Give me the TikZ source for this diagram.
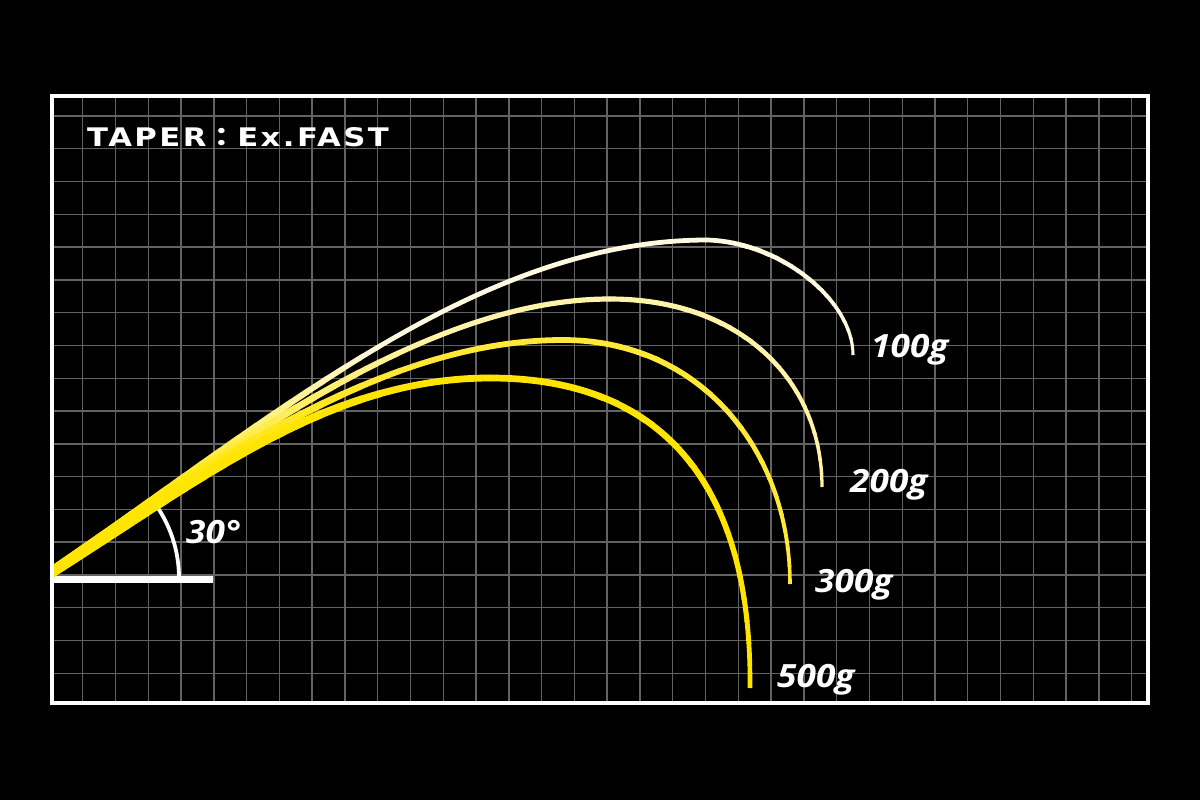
\documentclass[tikz,border=0pt]{standalone}
\usepackage{fontspec}
\setmainfont{DejaVu Sans}
\newfontfamily\lblfont{Open Sans}
\newfontfamily\titlefont[LetterSpace=8]{DejaVu Sans}
\newfontfamily\cjkfont{Noto Sans CJK JP}
\definecolor{gridgray}{HTML}{626262}
\definecolor{rodyellow}{HTML}{FFE600}
\definecolor{pale100}{HTML}{FFF9E0}
\definecolor{pale200}{HTML}{FFF3A8}
\definecolor{y300}{HTML}{FFE836}
\definecolor{y500}{HTML}{FFE400}
\tikzset{
  gridline/.style={draw=gridgray, line width=1.4pt},
  framebox/.style={draw=white, line width=3.5pt},
  lbl/.style={text=white, inner sep=0pt, anchor=base west, xscale=1.1, font=\lblfont\bfseries\itshape\fontsize{32}{32}\selectfont},
}
% uses \rodpath; #1 start colour, #2 end colour, #3 start width, #4 mid width, #5 x start, #6 x end, #7 x of peak
\newcommand\rodcurve[7]{%
  \begin{scope}\clip (52,0) rectangle (#5,800);
    \draw[color=#1, line width=#3pt] \rodpath;\end{scope}
  \foreach \k in {1,...,14}{%
    \pgfmathsetmacro\xl{#5+(#6-#5)*(\k-1)/14-0.6}%
    \pgfmathsetmacro\xr{#5+(#6-#5)*\k/14}%
    \pgfmathsetmacro\pp{100*(\k-0.5)/14}%
    \pgfmathsetmacro\ww{#3+(#4-#3)*(\k-0.5)/14}%
    \colorlet{bandc}{#2!\pp!#1}%
    \begin{scope}\clip (\xl,0) rectangle (\xr,800);
      \draw[color=bandc, line width=\ww pt] \rodpath;\end{scope}
  }%
  \begin{scope}\clip ({#6-0.6},0) rectangle (#7,800);
    \draw[color=#2, line width=#4pt] \rodpath;\end{scope}
}
% tip taper: #1 colour, #2 mid width, #3 tip width, #4 x of peak, #5 y of peak, #6 y of end
\newcommand\rodtip[6]{%
  \foreach \k in {1,...,14}{%
    \pgfmathsetmacro\yt{(\k==1) ? 0 : (#5+(#6-#5)*(\k-1)/14-0.6)}%
    \pgfmathsetmacro\yb{(\k==14) ? 800 : (#5+(#6-#5)*\k/14)}%
    \pgfmathsetmacro\ww{#2+(#3-#2)*(\k-0.5)/14}%
    \begin{scope}\clip ({#4-0.6},\yt) rectangle (1200,\yb);
      \draw[color=#1, line width=\ww pt] \rodpath;\end{scope}
  }%
}
\begin{document}
\begin{tikzpicture}[x=1pt,y=-1pt]
\fill[black] (0,0) rectangle (1200,800);
\useasboundingbox (0,0) rectangle (1200,800);
% grid
\foreach \k in {0,...,32} \draw[gridline] ({82.7+32.78*\k},96) -- ({82.7+32.78*\k},703);
\foreach \k in {0,...,17} \draw[gridline] (52,{116+32.78*\k}) -- (1148,{116+32.78*\k});
% angle marker
\coordinate (base0) at (52,579);
\coordinate (base1) at (213,579);
\draw[white, line width=7pt] (base0) -- (base1);
\draw[white, line width=3.8pt] (179,578) arc[start angle=0, end angle=-38, radius=127];
% curves
\def\rodpath{(45,576.4) .. controls (260,430) and (470,240) .. (707,240) .. controls (780,242) and (853,300) .. (853,355)}
\rodcurve{rodyellow}{pale100}{9}{4.8}{130}{380}{707}
\rodtip{pale100}{4.8}{3}{707}{240}{355}
\def\rodpath{(45,576.4) .. controls (240,440) and (430,299) .. (610,299) .. controls (740,299) and (822,380) .. (822,487)}
\rodcurve{rodyellow}{pale200}{9}{5.2}{130}{420}{610}
\rodtip{pale200}{5.2}{3.2}{610}{299}{487}
\def\rodpath{(45,576.4) .. controls (220,455) and (390,340) .. (563,340) .. controls (700,340) and (790,450) .. (790,584)}
\rodcurve{rodyellow}{y300}{10}{5.8}{130}{400}{563}
\rodtip{y300}{5.8}{3.5}{563}{340}{584}
\def\rodpath{(45,576.4) .. controls (200,478) and (330,378) .. (490,378) .. controls (650,378) and (752,470) .. (750,688)}
\rodcurve{rodyellow}{y500}{11}{6.8}{130}{400}{490}
\rodtip{y500}{6.8}{4.5}{490}{378}{688}
% frame
\draw[framebox] (52,96) rectangle (1148,703);
% texts
\node[text=white, inner sep=0pt, anchor=base west, xscale=1.2, font=\titlefont\bfseries\fontsize{25.6}{26}\selectfont] (title) at (87,146) {TAPER{\cjkfont\bfseries ：}Ex.FAST};
\node[lbl] (a30) at (186,543) {30°};
\node[lbl] (l100) at (871,357) {100g};
\node[lbl] (l200) at (850,492) {200g};
\node[lbl] (l300) at (815,592) {300g};
\node[lbl] (l500) at (777,687) {500g};
\end{tikzpicture}
\end{document}
